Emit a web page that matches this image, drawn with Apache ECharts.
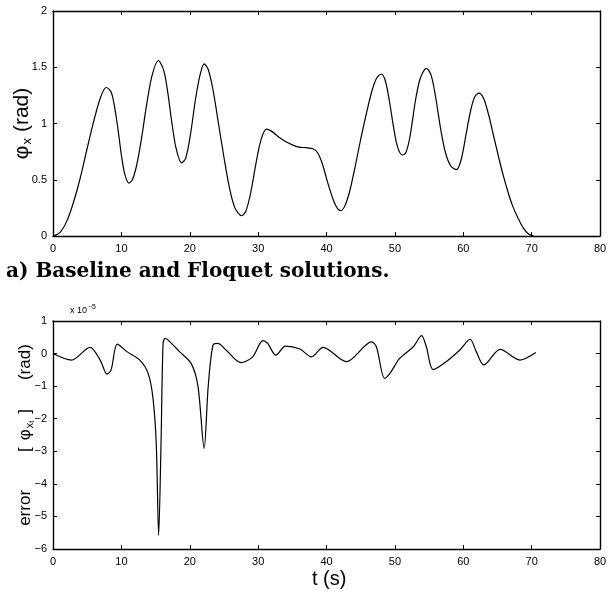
<!DOCTYPE html>
<html>
<head>
<meta charset="utf-8">
<script src="https://cdn.jsdelivr.net/npm/echarts@6/dist/echarts.min.js"></script>
<style>html,body{margin:0;padding:0;background:#fff;}#c{width:613px;height:598px;}</style>
</head>
<body>
<div id="c"></div>
<script>
// Top panel: phi_x (rad) vs t (s)
const phiT = [0,1,2,3,4,5,6,7,7.8,8.5,9,9.5,10,10.5,11.1,11.6,12.2,12.9,13.7,14.5,15.4,16.2,16.8,17.4,18,18.8,19.4,20.1,20.8,21.5,22.1,22.7,23.4,24.2,25,25.8,26.6,27.6,28.2,28.9,29.7,30.4,31.2,32,33,34,35,36,37,38,38.7,39.4,40.2,41,41.6,42.1,42.7,43.4,44.2,45,45.8,46.6,47.3,48,48.6,49.2,49.8,50.4,51.1,51.6,52.2,53,53.7,54.6,55.3,56,56.7,57.4,58.2,59,59.7,60.4,61.1,61.7,62.3,63,63.7,64.4,65.1,65.8,66.5,67.2,68,68.8,69.5,70.3];
const phiV = [0,0.03,0.13,0.3,0.52,0.78,1.03,1.24,1.32,1.28,1.15,0.95,0.72,0.55,0.47,0.5,0.62,0.85,1.17,1.43,1.56,1.47,1.27,1.0,0.78,0.65,0.69,0.9,1.2,1.43,1.53,1.48,1.3,1.0,0.7,0.43,0.25,0.18,0.22,0.38,0.65,0.85,0.95,0.93,0.88,0.84,0.81,0.79,0.785,0.775,0.74,0.64,0.47,0.32,0.245,0.225,0.27,0.4,0.62,0.86,1.08,1.28,1.4,1.44,1.38,1.2,0.97,0.79,0.72,0.74,0.88,1.2,1.4,1.49,1.43,1.22,0.95,0.74,0.62,0.59,0.68,0.9,1.12,1.24,1.27,1.22,1.08,0.9,0.72,0.55,0.4,0.27,0.16,0.07,0.02,0.0];
// Bottom panel: error (x 1e-5 rad) vs t (s)
const errT = [0,2.7,5.4,6.9,7.9,8.5,9.4,10.8,12.7,13.9,14.6,15.1,15.45,15.8,16.1,16.4,17.1,18.5,20.2,21.2,22.1,22.7,23.4,24.1,25.3,27.5,29.2,30.7,31.4,32.6,34.0,36.1,37.8,39.5,42.9,46.6,47.3,48.5,49.3,50.7,52.7,53.9,54.6,55.6,57.5,59.5,61.0,61.9,63.0,65.4,68.3,70.6];
const errV = [0.0,-0.2,0.19,-0.2,-0.63,-0.5,0.29,0.06,-0.2,-0.6,-1.33,-2.76,-5.58,-2.76,0.31,0.47,0.36,0.06,-0.3,-1.0,-2.91,-1.0,0.26,0.31,0.11,-0.28,-0.1,0.4,0.31,-0.05,0.23,0.14,-0.1,0.19,-0.25,0.36,0.21,-0.76,-0.6,-0.15,0.21,0.55,0.21,-0.49,-0.25,0.11,0.44,0.06,-0.35,0.13,-0.2,0.03];
const xTicks = [0,80,10];
const topY = [0,2,0.5];
const botY = [-6,1,1];

const font = 'Liberation Sans, Arial, sans-serif';
const phiData = phiT.map((t,i)=>[t,phiV[i]]);
const errData = errT.map((t,i)=>[t,errV[i]]);
const fmt = v => String(v).replace('-', '\u2212');

function xa(grid, pos, labels){
  return {type:'value', gridIndex:grid, position:pos, min:xTicks[0], max:xTicks[1], interval:xTicks[2],
    axisLine:{show:true,onZero:false,lineStyle:{color:'#000',width:1.4}},
    axisTick:{show:true,inside:true,length:4,lineStyle:{color:'#000'}},
    axisLabel:{show:labels,color:'#000',fontFamily:font,fontSize:11,margin:7},
    splitLine:{show:false}};
}
function ya(grid, pos, r, labels, name, gap){
  const o = {type:'value', gridIndex:grid, position:pos, min:r[0], max:r[1], interval:r[2],
    axisLine:{show:true,onZero:false,lineStyle:{color:'#000',width:1.4}},
    axisTick:{show:true,inside:true,length:4,lineStyle:{color:'#000'}},
    axisLabel:{show:labels,color:'#000',fontFamily:font,fontSize:11,margin:6,formatter:fmt},
    splitLine:{show:false}};
  if(name){o.name=name.text; o.nameLocation='middle'; o.nameGap=gap; o.nameRotate=90; o.nameMoveOverlap=false; o.nameTextStyle=name.style;}
  return o;
}

const chart = echarts.init(document.getElementById('c'));
chart.setOption({
  animation:false,
  backgroundColor:'#fff',
  grid:[{left:53,right:13,top:11,height:225,containLabel:false,outerBoundsMode:'none'},
        {left:53,right:13,top:321,height:228,containLabel:false,outerBoundsMode:'none'}],
  xAxis:[xa(0,'bottom',true), xa(1,'bottom',true), xa(0,'top',false), xa(1,'top',false)],
  yAxis:[
    ya(0,'left',topY,true,{text:'{a|φ}{s|x}{r|(rad)}',style:{rich:{
      a:{fontFamily:font,fontSize:21,color:'#000'},
      s:{fontFamily:font,fontSize:13,color:'#000',padding:[10,0,0,1]},
      r:{fontFamily:font,fontSize:21,color:'#000',padding:[0,0,0,6]}}}},19),
    ya(1,'left',botY,true,{text:'{a|error}{b|[}{p|φ}{s|x}{t|t}{c|]}{r|(rad)}',style:{rich:{
      a:{fontFamily:font,fontSize:17,color:'#000'},
      b:{fontFamily:font,fontSize:17,color:'#000',padding:[0,0,0,38]},
      p:{fontFamily:font,fontSize:17,color:'#000',padding:[0,0,0,7]},
      s:{fontFamily:font,fontSize:11,color:'#000',padding:[8,0,0,1]},
      t:{fontFamily:font,fontSize:7,color:'#000',padding:[14,0,0,0]},
      c:{fontFamily:font,fontSize:17,color:'#000',padding:[0,0,0,7]},
      r:{fontFamily:font,fontSize:17,color:'#000',padding:[0,0,0,29]}}}},17),
    ya(0,'right',topY,false), ya(1,'right',botY,false)
  ],
  series:[
    {type:'line',xAxisIndex:0,yAxisIndex:0,data:phiData,smooth:0.3,showSymbol:false,lineStyle:{color:'#000',width:1.2}},
    {type:'line',xAxisIndex:1,yAxisIndex:1,data:errData,smooth:0.3,showSymbol:false,lineStyle:{color:'#000',width:1.2}}
  ],
  graphic:[
    {type:'text',left:6,top:262,style:{text:'a) Baseline and Floquet solutions.',fontFamily:'DejaVu Serif, Liberation Serif, serif',fontWeight:'bold',fontSize:20,fill:'#000'}},
    {type:'text',left:70,top:304,style:{text:'{a|x 10}{b|−5}',rich:{a:{fontFamily:font,fontSize:9,fill:'#000'},b:{fontFamily:font,fontSize:7,fill:'#000',padding:[0,0,6,1]}}}},
    {type:'text',left:312,top:569,style:{text:'t (s)',fontFamily:font,fontSize:20,fill:'#000'}}
  ]
});
</script>
</body>
</html>
